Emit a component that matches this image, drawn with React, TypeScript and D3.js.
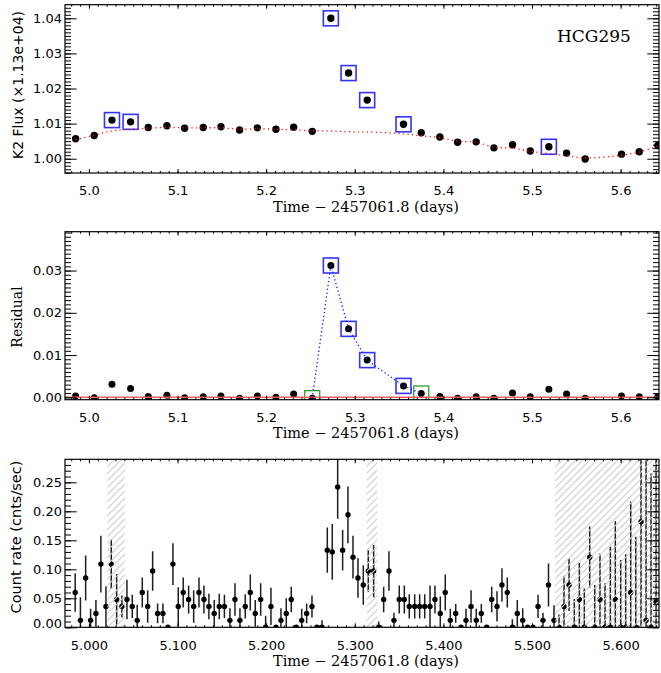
import React, { useEffect, useRef } from 'react';
import * as d3 from 'd3';

const W = 661;
const H = 673;

// K2 long-cadence photometry, flux normalised by 1.13e+04
const k2Time = [4.985, 5.006, 5.026, 5.047, 5.067, 5.088, 5.108, 5.129, 5.149, 5.170, 5.190, 5.211, 5.231, 5.252, 5.273, 5.293, 5.314, 5.355, 5.375, 5.396, 5.416, 5.437, 5.457, 5.478, 5.498, 5.519, 5.539, 5.560, 5.601, 5.621, 5.642];
const k2Flux = [1.0057, 1.0066, 1.0110, 1.0105, 1.0089, 1.0094, 1.0087, 1.0089, 1.0091, 1.0082, 1.0088, 1.0084, 1.0090, 1.0078, 1.0400, 1.0244, 1.0167, 1.0098, 1.0074, 1.0062, 1.0047, 1.0048, 1.0031, 1.0040, 1.0022, 1.0034, 1.0016, 0.9999, 1.0013, 1.0020, 1.0038];
const k2Model = [1.0054, 1.0067, 1.0079, 1.0084, 1.0087, 1.0089, 1.0088, 1.0088, 1.0088, 1.0084, 1.0085, 1.0084, 1.0082, 1.0080, 1.0079, 1.0077, 1.0076, 1.0071, 1.0065, 1.0060, 1.0050, 1.0047, 1.0033, 1.0030, 1.0021, 1.0015, 1.0008, 1.0002, 1.0010, 1.0019, 1.0036];
const k2Resid = [0.0003, -0.0001, 0.0031, 0.0021, 0.0002, 0.0005, -0.0001, 0.0001, 0.0003, -0.0002, 0.0003, 0.0000, 0.0008, -0.0002, 0.0312, 0.0162, 0.0088, 0.0027, 0.0009, 0.0002, -0.0002, 0.0001, -0.0002, 0.0010, 0.0001, 0.0019, 0.0008, -0.0002, 0.0003, 0.0001, 0.0002];
const fluxFlagged = [2, 3, 14, 15, 16, 17, 25];
const flareIdx = [14, 15, 16, 17];
const flareEdgeIdx = [13, 18];

// Swift XRT light curve
const xrtTime = [4.9845, 4.9904, 4.9963, 5.0019, 5.0079, 5.0135, 5.0192, 5.0252, 5.0313, 5.0372, 5.0429, 5.0489, 5.0545, 5.0602, 5.0663, 5.0719, 5.0775, 5.0835, 5.0892, 5.0948, 5.1008, 5.1064, 5.1125, 5.1182, 5.1242, 5.1298, 5.1354, 5.1414, 5.1471, 5.1529, 5.1591, 5.1648, 5.1704, 5.1764, 5.1821, 5.1877, 5.1938, 5.1994, 5.2054, 5.2111, 5.2167, 5.2227, 5.2283, 5.2340, 5.2401, 5.2457, 5.2517, 5.2573, 5.2630, 5.2690, 5.2746, 5.2807, 5.2863, 5.2923, 5.2980, 5.3036, 5.3096, 5.3152, 5.3213, 5.3270, 5.3326, 5.3386, 5.3442, 5.3502, 5.3559, 5.3615, 5.3676, 5.3732, 5.3789, 5.3849, 5.3905, 5.3965, 5.4021, 5.4078, 5.4139, 5.4199, 5.4255, 5.4312, 5.4371, 5.4428, 5.4489, 5.4545, 5.4605, 5.4661, 5.4721, 5.4778, 5.4834, 5.4895, 5.4951, 5.5011, 5.5068, 5.5124, 5.5186, 5.5248, 5.5305, 5.5361, 5.5418, 5.5477, 5.5534, 5.5590, 5.5651, 5.5708, 5.5767, 5.5824, 5.5884, 5.5940, 5.6001, 5.6057, 5.6114, 5.6171, 5.6230, 5.6287, 5.6343, 5.6400];
const xrtRate = [0.060, 0.012, 0.085, 0.012, 0.024, 0.109, 0.036, 0.109, 0.048, 0.036, 0.048, 0.036, 0.012, 0.060, 0.036, 0.097, 0.024, 0.024, 0.000, 0.109, 0.036, 0.060, 0.048, 0.036, 0.060, 0.048, 0.036, 0.024, 0.036, 0.036, 0.012, 0.048, 0.012, 0.036, 0.060, 0.024, 0.048, 0.000, 0.036, 0.000, 0.012, 0.024, 0.048, 0.000, 0.012, 0.024, 0.036, 0.000, 0.000, 0.133, 0.130, 0.242, 0.133, 0.194, 0.121, 0.085, 0.073, 0.097, 0.097, 0.000, 0.048, 0.097, 0.012, 0.048, 0.048, 0.036, 0.036, 0.036, 0.036, 0.036, 0.048, 0.024, 0.060, 0.012, 0.024, 0.000, 0.012, 0.036, 0.012, 0.024, 0.000, 0.048, 0.036, 0.073, 0.060, 0.000, 0.024, 0.012, 0.000, 0.000, 0.036, 0.012, 0.073, 0.012, 0.000, 0.036, 0.073, 0.000, 0.048, 0.000, 0.121, 0.000, 0.048, 0.000, 0.000, 0.048, 0.000, 0.000, 0.060, 0.000, 0.182, 0.012, 0.000, 0.044];
const xrtErr = [0.033, 0.040, 0.039, 0.020, 0.023, 0.049, 0.035, 0.043, 0.044, 0.019, 0.034, 0.020, 0.027, 0.026, 0.028, 0.034, 0.017, 0.017, 0.000, 0.036, 0.033, 0.026, 0.024, 0.028, 0.026, 0.024, 0.022, 0.023, 0.022, 0.020, 0.021, 0.028, 0.021, 0.021, 0.031, 0.023, 0.028, 0.020, 0.032, 0.000, 0.021, 0.026, 0.022, 0.000, 0.020, 0.017, 0.019, 0.000, 0.012, 0.039, 0.048, 0.055, 0.035, 0.049, 0.037, 0.034, 0.034, 0.036, 0.045, 0.010, 0.022, 0.034, 0.013, 0.024, 0.024, 0.021, 0.021, 0.021, 0.021, 0.036, 0.024, 0.029, 0.031, 0.020, 0.016, 0.000, 0.020, 0.028, 0.020, 0.016, 0.000, 0.022, 0.026, 0.029, 0.026, 0.014, 0.023, 0.021, 0.000, 0.000, 0.020, 0.013, 0.037, 0.026, 0.022, 0.053, 0.045, 0.049, 0.063, 0.067, 0.053, 0.073, 0.079, 0.076, 0.139, 0.135, 0.116, 0.126, 0.157, 0.156, 0.190, 0.300, 0.265, 0.280];
// intervals flagged in the XRT data (hatched)
const xrtGaps: [number, number][] = [[5.0207, 5.0406], [5.3134, 5.3254], [5.526, 5.66]];

const xTicks = [5.0, 5.1, 5.2, 5.3, 5.4, 5.5, 5.6];
const fluxTicks = [1.00, 1.01, 1.02, 1.03, 1.04];
const residTicks = [0.00, 0.01, 0.02, 0.03];
const rateTicks = [0.00, 0.05, 0.10, 0.15, 0.20, 0.25];

const X_DOMAIN: [number, number] = [4.973, 5.6433];
const LEFT = 65;
const RIGHT = 659;

const SANS = '"DejaVu Sans", sans-serif';
const SERIF = '"DejaVu Serif", serif';
const BLUE = '#3434ff';
const GREEN = '#2f9a2f';

function minorTicks(lo: number, hi: number, step: number) {
    return d3.range(Math.ceil(lo / step - 1e-6), Math.floor(hi / step + 1e-6) + 1).map(i => +(i * step).toFixed(6));
}

const App: React.FC = () => {
    const svgRef = useRef<SVGSVGElement>(null);

    useEffect(() => {
        if (!svgRef.current) return;
        const svg = d3.select(svgRef.current);
        svg.selectAll('*').remove();

        const defs = svg.append('defs');
        const pat = defs.append('pattern')
            .attr('id', 'hatch')
            .attr('patternUnits', 'userSpaceOnUse')
            .attr('width', 7)
            .attr('height', 7);
        pat.append('path')
            .attr('d', 'M-1,8 L8,-1 M-1,1 L1,-1 M6,8 L8,6')
            .attr('stroke', '#cfcfcf')
            .attr('stroke-width', 1.2);

        const x = d3.scaleLinear().domain(X_DOMAIN).range([LEFT, RIGHT]);

        function frame(id: string, top: number, bottom: number, yDomain: [number, number],
                       yMajor: number[], yMinorStep: number, yFmt: (v: number) => string,
                       xFmt: (v: number) => string) {
            const y = d3.scaleLinear().domain(yDomain).range([bottom, top]);
            defs.append('clipPath').attr('id', id)
                .append('rect')
                .attr('x', LEFT).attr('y', top)
                .attr('width', RIGHT - LEFT).attr('height', bottom - top);

            const xMinor = minorTicks(X_DOMAIN[0], X_DOMAIN[1], 0.01);
            const yMinor = minorTicks(yDomain[0], yDomain[1], yMinorStep);
            const axes = svg.append('g');

            const style = (g: d3.Selection<SVGGElement, unknown, null, undefined>) => {
                g.select('.domain').remove();
                g.selectAll('line').attr('stroke', '#000').attr('stroke-width', 1);
                g.selectAll('text').attr('font-family', SANS).attr('font-size', 13).attr('fill', '#000');
            };

            // bottom
            axes.append('g').attr('transform', `translate(0,${bottom})`)
                .call(d3.axisBottom(x).tickValues(xMinor).tickSize(-2).tickFormat(() => '')).call(style);
            axes.append('g').attr('transform', `translate(0,${bottom})`)
                .call(d3.axisBottom(x).tickValues(xTicks).tickSize(-4).tickPadding(13).tickFormat(d => xFmt(+d))).call(style);
            // top
            axes.append('g').attr('transform', `translate(0,${top})`)
                .call(d3.axisTop(x).tickValues(xMinor).tickSize(-2).tickFormat(() => '')).call(style);
            axes.append('g').attr('transform', `translate(0,${top})`)
                .call(d3.axisTop(x).tickValues(xTicks).tickSize(-4).tickFormat(() => '')).call(style);
            // left
            axes.append('g').attr('transform', `translate(${LEFT},0)`)
                .call(d3.axisLeft(y).tickValues(yMinor).tickSize(-6).tickFormat(() => '')).call(style);
            const yl = axes.append('g').attr('transform', `translate(${LEFT},0)`)
                .call(d3.axisLeft(y).tickValues(yMajor).tickSize(-11.7).tickPadding(3).tickFormat(d => yFmt(+d))).call(style);
            // right
            axes.append('g').attr('transform', `translate(${RIGHT},0)`)
                .call(d3.axisRight(y).tickValues(yMinor).tickSize(-6).tickFormat(() => '')).call(style);
            axes.append('g').attr('transform', `translate(${RIGHT},0)`)
                .call(d3.axisRight(y).tickValues(yMajor).tickSize(-11.7).tickFormat(() => '')).call(style);

            axes.append('rect')
                .attr('x', LEFT).attr('y', top)
                .attr('width', RIGHT - LEFT).attr('height', bottom - top)
                .attr('fill', 'none').attr('stroke', '#000').attr('stroke-width', 1.2);

            const plot = svg.insert('g', () => axes.node()).attr('clip-path', `url(#${id})`);
            return { y, plot, yl };
        }

        const f1 = d3.format('.1f');
        const f2 = d3.format('.2f');
        const f3 = d3.format('.3f');

        // ---- panel 1: K2 flux ----
        const p1 = frame('clip1', 4.7, 173, [0.99593, 1.04388], fluxTicks, 0.001, f2, f1);
        p1.plot.selectAll('circle').data(k2Time).join('circle')
            .attr('cx', d => x(d)).attr('cy', (_, i) => p1.y(k2Flux[i]))
            .attr('r', 3.7).attr('fill', '#000');
        p1.plot.selectAll('rect.flag').data(fluxFlagged).join('rect').attr('class', 'flag')
            .attr('x', i => x(k2Time[i]) - 7.5).attr('y', i => p1.y(k2Flux[i]) - 7.5)
            .attr('width', 15).attr('height', 15)
            .attr('fill', 'none').attr('stroke', BLUE).attr('stroke-width', 1.6);
        const modelLine = d3.line<number>()
            .x(d => x(d))
            .y((_, i) => p1.y(k2Model[i]))
            .curve(d3.curveCatmullRom);
        p1.plot.append('path').datum(k2Time)
            .attr('d', modelLine)
            .attr('fill', 'none').attr('stroke', '#ff1a1a').attr('stroke-width', 1.3)
            .attr('stroke-dasharray', '1.3,3.2');

        svg.append('text').attr('x', 557).attr('y', 42)
            .attr('font-family', SERIF).attr('font-size', 17).text('HCG295');

        // ---- panel 2: residuals ----
        const p2 = frame('clip2', 231.7, 399.7, [-0.00057, 0.0392], residTicks, 0.001, f2, f1);
        p2.plot.selectAll('circle').data(k2Time).join('circle')
            .attr('cx', d => x(d)).attr('cy', (_, i) => p2.y(k2Resid[i]))
            .attr('r', 3.5).attr('fill', '#000');
        p2.plot.selectAll('rect.flare').data(flareIdx).join('rect').attr('class', 'flare')
            .attr('x', i => x(k2Time[i]) - 7.5).attr('y', i => p2.y(k2Resid[i]) - 7.5)
            .attr('width', 15).attr('height', 15)
            .attr('fill', 'none').attr('stroke', BLUE).attr('stroke-width', 1.6);
        p2.plot.selectAll('rect.edge').data(flareEdgeIdx).join('rect').attr('class', 'edge')
            .attr('x', i => x(k2Time[i]) - 7.5).attr('y', i => p2.y(k2Resid[i]) - 7.5)
            .attr('width', 15).attr('height', 15)
            .attr('fill', 'none').attr('stroke', GREEN).attr('stroke-width', 1.3);
        p2.plot.append('line')
            .attr('x1', LEFT).attr('x2', RIGHT)
            .attr('y1', p2.y(0)).attr('y2', p2.y(0))
            .attr('stroke', '#f26060').attr('stroke-width', 1.6);
        const flareSeq = d3.range(flareEdgeIdx[0], flareEdgeIdx[1] + 1);
        p2.plot.append('path').datum(flareSeq)
            .attr('d', d3.line<number>().x(i => x(k2Time[i])).y(i => p2.y(k2Resid[i])))
            .attr('fill', 'none').attr('stroke', '#1a1aff').attr('stroke-width', 1.3)
            .attr('stroke-dasharray', '1.3,2.6');

        // ---- panel 3: XRT count rate ----
        const p3 = frame('clip3', 459.3, 627.3, [0, 0.2897], rateTicks, 0.01, f2, f3);
        p3.yl.selectAll('g.tick').filter(d => +d === 0).select('text').attr('y', -4);
        p3.plot.selectAll('line.err').data(xrtTime).join('line').attr('class', 'err')
            .attr('x1', d => x(d)).attr('x2', d => x(d))
            .attr('y1', (_, i) => p3.y(Math.max(0, xrtRate[i] - xrtErr[i])))
            .attr('y2', (_, i) => p3.y(xrtRate[i] + xrtErr[i]))
            .attr('stroke', '#1e1e1e').attr('stroke-width', 1.5);
        p3.plot.selectAll('circle').data(xrtTime).join('circle')
            .attr('cx', d => x(d)).attr('cy', (_, i) => p3.y(xrtRate[i]))
            .attr('r', 2.7).attr('fill', '#000');
        p3.plot.selectAll('rect.gap').data(xrtGaps).join('rect').attr('class', 'gap')
            .attr('x', d => x(d[0])).attr('width', d => x(d[1]) - x(d[0]))
            .attr('y', 459.3).attr('height', 627.3 - 459.3)
            .attr('fill', 'url(#hatch)');

        // ---- axis titles ----
        const timeLabel = 'Time − 2457061.8 (days)';
        [212, 438, 666].forEach(yy => {
            svg.append('text').attr('x', 366).attr('y', yy)
                .attr('text-anchor', 'middle')
                .attr('font-family', SERIF).attr('font-size', 14.5)
                .text(timeLabel);
        });
        const yTitle = (label: string, cx: number, cy: number, font: string, size: number) => {
            svg.append('text')
                .attr('transform', `translate(${cx},${cy}) rotate(-90)`)
                .attr('text-anchor', 'middle')
                .attr('font-family', font).attr('font-size', size)
                .text(label);
        };
        yTitle('K2 Flux (×1.13e+04)', 23, 85, SANS, 14);
        yTitle('Residual', 22, 317, SERIF, 14);
        yTitle('Count rate (cnts/sec)', 21, 537, SANS, 14.5);
    }, []);

    return (
        <svg ref={svgRef} width={W} height={H}
             style={{ position: 'absolute', left: 0, top: 0, background: '#fff' }} />
    );
};

export default App;
